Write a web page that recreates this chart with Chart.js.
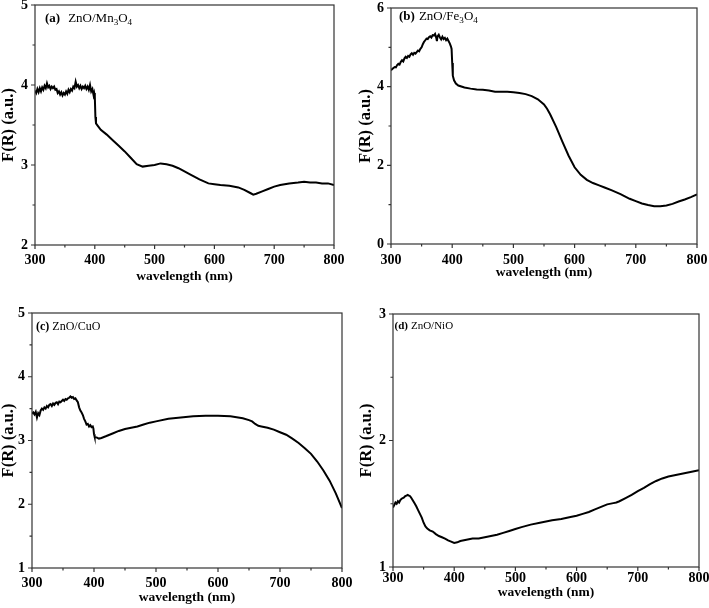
<!DOCTYPE html>
<html>
<head>
<meta charset="utf-8">
<script src="https://cdn.jsdelivr.net/npm/chart.js@4.4.1/dist/chart.umd.min.js"></script>
<style>
  body { margin: 0; background: #fff; width: 709px; height: 608px; position: relative; overflow: hidden; }
  canvas { position: absolute; }
</style>
</head>
<body>
<canvas id="chartA" width="354" height="300" style="left:0;top:0"></canvas>
<canvas id="chartB" width="355" height="300" style="left:354px;top:0"></canvas>
<canvas id="chartC" width="354" height="308" style="left:0;top:300px"></canvas>
<canvas id="chartD" width="355" height="308" style="left:354px;top:300px"></canvas>
<script>
// tick labels
var xLabels = [300, 400, 500, 600, 700, 800];
var yLabelsA = [2, 3, 4, 5];
var yLabelsB = [0, 2, 4, 6];
var yLabelsC = [1, 2, 3, 4, 5];
var yLabelsD = [1, 2, 3];

// (a) ZnO/Mn3O4
var wlA = [300,302,304,306,308,310,312,314,316,318,320,322,324,326,328,330,332,334,336,338,340,342,344,346,348,350,352,354,356,358,360,362,364,366,368,370,372,374,376,378,380,382,384,386,388,390,392,394,396,398,399,400,401,402,405,410,420,430,440,450,460,470,480,490,500,510,520,530,540,550,560,575,590,600,610,625,640,650,660,665,670,680,690,700,710,725,740,750,760,770,780,790,800];
var frA = [3.93,3.90,3.95,3.91,3.96,3.92,3.97,3.94,3.99,3.96,4.02,3.97,3.99,3.95,3.98,3.96,3.98,3.94,3.95,3.90,3.92,3.88,3.91,3.87,3.90,3.88,3.92,3.89,3.94,3.91,3.95,3.93,3.98,3.96,4.04,3.98,4.00,3.96,3.99,3.95,3.98,3.96,3.99,3.95,3.98,3.94,4.00,3.92,3.95,3.87,3.90,3.86,3.60,3.52,3.49,3.44,3.38,3.31,3.24,3.17,3.09,3.01,2.98,2.99,3.00,3.02,3.01,2.99,2.96,2.92,2.88,2.82,2.77,2.76,2.75,2.74,2.72,2.69,2.65,2.63,2.64,2.67,2.70,2.73,2.75,2.77,2.78,2.79,2.78,2.78,2.77,2.77,2.75];

// (b) ZnO/Fe3O4
var wlB = [300,303,306,308,310,312,314,316,318,320,322,324,326,328,330,332,334,336,338,340,342,344,346,348,350,352,354,356,358,360,362,364,366,368,370,372,374,375,376,378,380,382,384,386,388,390,392,394,396,398,399,400,401,403,406,410,420,430,440,450,460,470,480,490,500,510,520,530,540,550,555,560,570,580,590,600,610,620,630,640,650,660,675,690,700,710,720,730,740,750,760,770,780,790,800];
var frB = [4.42,4.46,4.50,4.49,4.55,4.58,4.56,4.63,4.67,4.64,4.72,4.76,4.73,4.78,4.76,4.82,4.85,4.81,4.86,4.84,4.88,4.92,4.90,4.96,5.00,5.08,5.14,5.18,5.22,5.21,5.26,5.28,5.25,5.31,5.30,5.34,5.24,5.16,5.28,5.32,5.25,5.20,5.27,5.21,5.24,5.18,5.22,5.16,5.10,5.02,4.96,4.60,4.28,4.16,4.08,4.03,3.98,3.95,3.93,3.92,3.90,3.87,3.87,3.87,3.86,3.84,3.81,3.76,3.68,3.55,3.44,3.30,2.97,2.60,2.25,1.95,1.76,1.63,1.55,1.49,1.43,1.37,1.27,1.15,1.09,1.03,0.99,0.96,0.96,0.98,1.02,1.08,1.13,1.19,1.26];

// (c) ZnO/CuO
var wlC = [300,302,304,306,308,310,312,314,316,318,320,322,324,326,328,330,332,334,336,338,340,342,344,346,348,350,352,354,356,358,360,362,364,366,368,370,372,374,376,378,380,382,384,386,388,390,392,394,396,398,399,400,401,404,408,412,420,430,440,450,460,470,480,490,500,520,540,560,580,600,620,640,650,655,660,665,670,680,690,700,710,720,730,740,750,760,770,780,790,800];
var frC = [3.42,3.44,3.41,3.45,3.36,3.43,3.40,3.47,3.50,3.48,3.52,3.50,3.54,3.52,3.56,3.57,3.54,3.58,3.56,3.59,3.60,3.57,3.61,3.60,3.62,3.64,3.62,3.65,3.64,3.66,3.67,3.69,3.67,3.68,3.65,3.66,3.63,3.60,3.52,3.47,3.44,3.40,3.34,3.30,3.25,3.26,3.22,3.24,3.21,3.22,3.19,3.10,3.06,3.05,3.03,3.04,3.07,3.11,3.15,3.18,3.20,3.22,3.25,3.28,3.30,3.34,3.36,3.38,3.39,3.39,3.38,3.35,3.32,3.30,3.26,3.23,3.22,3.20,3.17,3.13,3.09,3.03,2.96,2.88,2.79,2.67,2.53,2.37,2.17,1.94];

// (d) ZnO/NiO
var wlD = [300,302,304,306,308,310,312,314,316,318,320,322,324,326,328,330,332,335,338,341,344,347,350,353,356,360,365,370,375,380,385,390,395,400,405,410,420,430,440,450,460,470,480,490,500,510,525,540,550,560,575,590,600,610,620,630,640,650,660,665,670,680,690,700,710,720,730,740,750,760,770,780,790,800];
var frD = [1.47,1.49,1.51,1.50,1.52,1.51,1.53,1.54,1.545,1.55,1.56,1.565,1.57,1.565,1.56,1.545,1.53,1.505,1.48,1.45,1.42,1.39,1.35,1.32,1.305,1.29,1.28,1.26,1.245,1.235,1.225,1.21,1.20,1.19,1.195,1.205,1.215,1.225,1.225,1.235,1.245,1.255,1.27,1.285,1.30,1.315,1.335,1.35,1.36,1.37,1.38,1.395,1.405,1.42,1.435,1.455,1.475,1.495,1.505,1.51,1.52,1.545,1.57,1.60,1.625,1.655,1.68,1.70,1.715,1.725,1.735,1.745,1.755,1.765];

var serif = '"Liberation Serif", "Times New Roman", serif';

function isIn(list, v) {
  for (var i = 0; i < list.length; i++) {
    if (Math.abs(list[i] - v) < 1e-6) return true;
  }
  return false;
}

// box round the plot, outward tick marks and the panel label
function framePlugin(o) {
  return {
    id: 'frame',
    afterDraw: function(chart) {
      var ctx = chart.ctx, a = chart.chartArea;
      var xs = chart.scales.x, ys = chart.scales.y;
      ctx.save();
      ctx.strokeStyle = '#333';
      ctx.lineWidth = 1.2;
      ctx.strokeRect(a.left, a.top, a.right - a.left, a.bottom - a.top);
      ctx.beginPath();
      xs.ticks.forEach(function(t) {
        var px = xs.getPixelForValue(t.value);
        var len = isIn(xLabels, t.value) ? 4 : 2.5;
        ctx.moveTo(px, a.bottom);
        ctx.lineTo(px, a.bottom + len);
      });
      ys.ticks.forEach(function(t) {
        var py = ys.getPixelForValue(t.value);
        var len = isIn(o.yLabels, t.value) ? 4 : 2.5;
        ctx.moveTo(a.left, py);
        ctx.lineTo(a.left - len, py);
      });
      ctx.stroke();

      // label with subscripts
      var x = a.left + o.labelDx, y = a.top + o.labelDy;
      ctx.fillStyle = '#000';
      ctx.textBaseline = 'alphabetic';
      o.label.forEach(function(seg) {
        var size = seg.sub ? o.labelSize * 0.7 : o.labelSize;
        ctx.font = (seg.bold ? 'bold ' : '') + size + 'px ' + serif;
        ctx.fillText(seg.t, x, seg.sub ? y + o.labelSize * 0.25 : y);
        x += ctx.measureText(seg.t).width + (seg.gap || 0);
      });
      ctx.restore();
    }
  };
}

function makePanel(id, wl, fr, o) {
  var pts = wl.map(function(w, i) { return { x: w, y: fr[i] }; });
  return new Chart(document.getElementById(id), {
    type: 'line',
    data: {
      datasets: [{
        data: pts,
        borderColor: '#000',
        borderWidth: 2,
        pointRadius: 0,
        tension: 0
      }]
    },
    options: {
      responsive: false,
      animation: false,
      layout: { padding: { top: o.top, right: o.right, left: 0, bottom: 0 } },
      plugins: { legend: { display: false }, tooltip: { enabled: false } },
      scales: {
        x: {
          type: 'linear', min: 300, max: 800,
          grid: { display: false, drawTicks: false, tickLength: 0 }, border: { display: false },
          ticks: {
            stepSize: 50, autoSkip: false, maxRotation: 0, padding: o.xPad,
            color: '#000', font: { family: serif, size: 14, weight: 'bold' },
            callback: function(v) { return isIn(xLabels, v) ? String(v) : ''; }
          },
          title: {
            display: true, text: 'wavelength (nm)', color: '#000',
            font: { family: serif, size: 13.5, weight: 'bold' },
            padding: { top: 0, bottom: o.xTitlePad }
          },
          afterFit: function(s) {
            s.height = o.xH;
            s.paddingLeft = 0; s.paddingRight = 0;
          }
        },
        y: {
          type: 'linear', min: o.ymin, max: o.ymax,
          grid: { display: false, drawTicks: false, tickLength: 0 }, border: { display: false },
          ticks: {
            stepSize: o.minor, autoSkip: false, padding: 7,
            color: '#000', font: { family: serif, size: 14, weight: 'bold' },
            callback: function(v) { return isIn(o.yLabels, v) ? String(v) : ''; }
          },
          title: {
            display: true, text: 'F(R) (a.u.)', color: '#000',
            font: { family: serif, size: 16.5, weight: 'bold' },
            padding: { top: o.yTitlePad, bottom: 0 }
          },
          afterFit: function(s) {
            s.width = o.yW;
            s.paddingTop = 0; s.paddingBottom = 0;
          }
        }
      }
    },
    plugins: [framePlugin(o)]
  });
}

makePanel('chartA', wlA, frA, {
  top: 5, right: 20, yW: 35, xH: 55, xPad: 7, xTitlePad: 15, yTitlePad: -1,
  ymin: 2, ymax: 5, minor: 0.5, yLabels: yLabelsA,
  labelDx: 10, labelDy: 17, labelSize: 13,
  label: [{ t: '(a)', bold: true, gap: 8 }, { t: 'ZnO/Mn' }, { t: '3', sub: true }, { t: 'O' }, { t: '4', sub: true }]
});
makePanel('chartB', wlB, frB, {
  top: 8, right: 12, yW: 37, xH: 56, xPad: 8, xTitlePad: 19, yTitlePad: 2,
  ymin: 0, ymax: 6, minor: 1, yLabels: yLabelsB,
  labelDx: 8, labelDy: 11.5, labelSize: 13,
  label: [{ t: '(b)', bold: true, gap: 4 }, { t: 'ZnO/Fe' }, { t: '3', sub: true }, { t: 'O' }, { t: '4', sub: true }]
});
makePanel('chartC', wlC, frC, {
  top: 13, right: 12, yW: 32, xH: 40, xPad: 7, xTitlePad: 2, yTitlePad: -1,
  ymin: 1, ymax: 5, minor: 0.5, yLabels: yLabelsC,
  labelDx: 4, labelDy: 16.5, labelSize: 12,
  label: [{ t: '(c)', bold: true, gap: 3 }, { t: 'ZnO/CuO' }]
});
makePanel('chartD', wlD, frD, {
  top: 14, right: 10, yW: 39, xH: 41, xPad: 3, xTitlePad: 7, yTitlePad: 3,
  ymin: 1, ymax: 3, minor: 0.5, yLabels: yLabelsD,
  labelDx: 1.5, labelDy: 15, labelSize: 11,
  label: [{ t: '(d)', bold: true, gap: 3 }, { t: 'ZnO/NiO' }]
});
</script>
</body>
</html>
